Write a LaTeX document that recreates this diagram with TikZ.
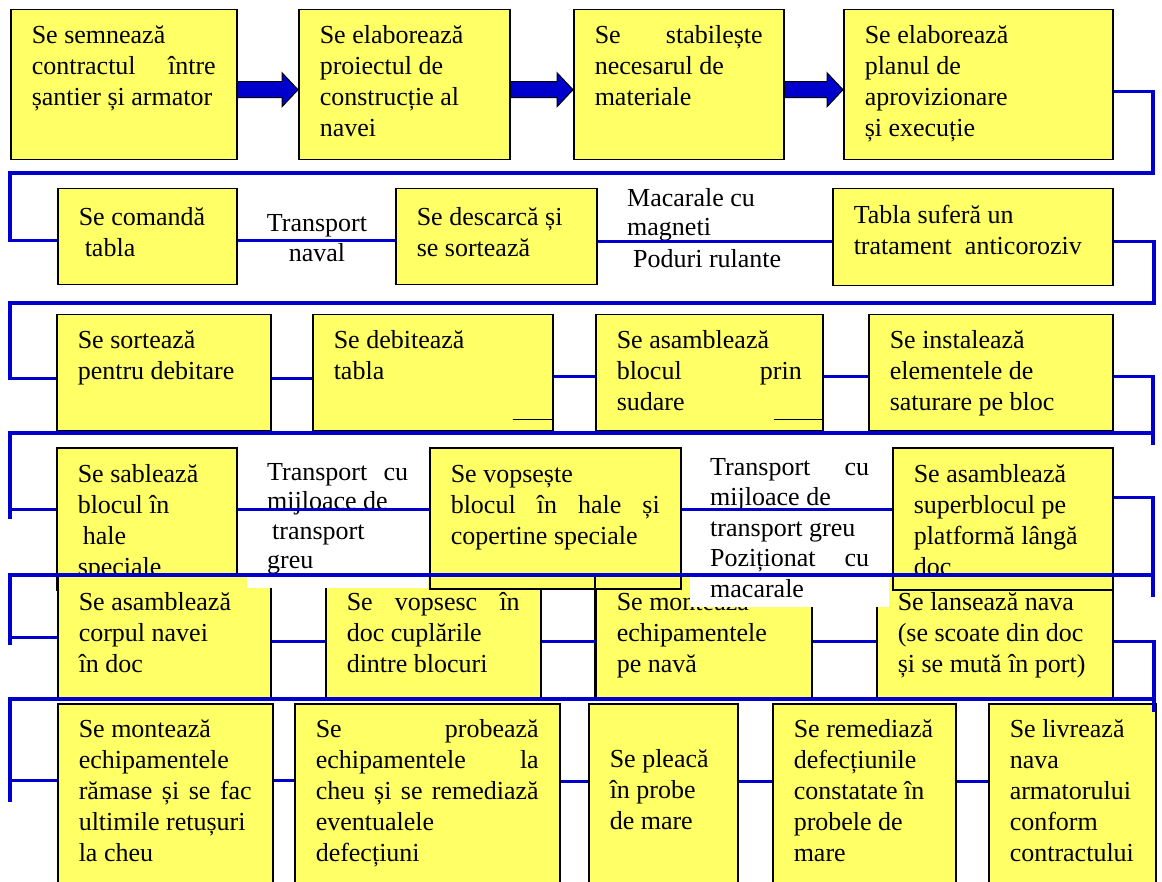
\documentclass[tikz,border=0pt]{standalone}
\usepackage{fontspec}
\setmainfont{Liberation Serif}
\usetikzlibrary{calc}
\definecolor{boxyellow}{RGB}{255,255,102}
\definecolor{flowblue}{RGB}{0,0,204}
% a line stretched to the full text width
\newcommand\jl[1]{\makebox[\linewidth][s]{#1}}
% thick block arrow from the east side of #1 to the west side of #2
\newcommand\flowarrow[2]{%
  \draw[blockarrow] ($(#1.east)+(0,-3)$) -- ($(#2.west)+(-16,-3)$) -- ($(#2.west)+(-16,-12)$)
    -- ($(#2.west)+(0,5)$) -- ($(#2.west)+(-16,22)$) -- ($(#2.west)+(-16,13)$)
    -- ($(#1.east)+(0,13)$) -- cycle;}
\begin{document}
\begin{tikzpicture}[x=1pt,y=-1pt,
  every node/.style={font=\fontsize{26}{31}\selectfont,
    execute at begin node={\hyphenpenalty=10000\exhyphenpenalty=10000}},
  stepbox/.style={draw=black, line width=1.5pt, fill=boxyellow, anchor=north west,
    inner xsep=21pt, inner ysep=0pt, align=flush left},
  bx/.style n args={3}{text width=#1pt, text height=#2pt, text depth=#3pt},
  flow/.style={draw=flowblue, line width=3.2pt, line join=miter},
  blockarrow/.style={fill=flowblue, draw=black, line width=1pt, line join=miter},
  tag/.style={inner sep=0pt, align=flush left, anchor=base west},
  patch/.style={fill=white, inner xsep=20pt, inner ysep=0pt, anchor=north west, align=flush left}
]
\useasboundingbox (0,0) rectangle (1162,882);
\clip (0,0) rectangle (1162,882);

% ---- row 1
\node[stepbox, bx={184}{34}{116}] (b1) at (10,9) {Se semnează\\ \jl{contractul între}\\ șantier și armator};
\node[stepbox, bx={169}{34}{116}] (b2) at (298,9) {Se elaborează\\ proiectul de\\ construcție al\\ navei};
\node[stepbox, bx={168}{34}{116}] (b3) at (573,9) {\jl{Se stabilește}\\ necesarul de\\ materiale};
\node[stepbox, bx={227}{34}{116}] (b4) at (843,9) {Se elaborează\\ planul de\\ aprovizionare\\ și execuție};
\flowarrow{b1}{b2}
\flowarrow{b2}{b3}
\flowarrow{b3}{b4}

% ---- row 2
\node[stepbox, bx={137}{37}{59}] (b5) at (57,188) {Se comandă\\ \hspace*{6pt}tabla};
\node[stepbox, bx={159}{37}{59}] (b6) at (395,188) {Se descarcă și\\ se sortează};
\node[stepbox, bx={238}{35}{62}] (b7) at (832,188) {Tabla suferă un\\ tratament\ \ anticoroziv};
\node[tag, text width=110pt, align=flush center, anchor=base] (lab1) at (317,232) {Transport\\[-1pt] naval};
\node[tag, text width=150pt, font=\fontsize{26}{29}\selectfont] (lab2) at (627,207) {Macarale cu\\ magneti};
\node[tag] (lab3) at (633,268) {Poduri rulante};

% ---- row 3
\node[stepbox, bx={172}{34}{82}] (b8) at (56,314) {Se sortează\\ pentru debitare};
\node[stepbox, bx={198}{34}{82}] (b9) at (312,314) {Se debitează\\ tabla};
\node[stepbox, bx={185}{34}{82}] (b10) at (595,314) {Se asamblează\\ \jl{blocul prin}\\ sudare};
\node[stepbox, bx={202}{34}{82}] (b11) at (868,314) {Se instalează\\ elementele de\\ saturare pe bloc};
\draw[line width=1.5pt] ($(b9.south east)+(-41,-12)$) -- ($(b9.south east)+(0,-12)$);
\draw[line width=1.5pt] ($(b10.south east)+(-50,-12)$) -- ($(b10.south east)+(0,-12)$);

% ---- rows 4 and 5 (overlapping)
\node[stepbox, bx={138}{35}{107}] (b12) at (56,447) {Se sablează\\ blocul în\\ \hspace*{5pt}hale\\ speciale};
\node[stepbox, bx={171}{35}{87}] (b15) at (57,575) {Se asamblează\\ corpul navei\\ în doc};
\node[stepbox, bx={173}{35}{87}] (b16) at (325,575) {\jl{Se vopsesc în}\\ doc cuplările\\ dintre blocuri};
\node[stepbox, bx={194}{35}{87}] (b18) at (876,575) {Se lansează nava\\ (se scoate din doc\\ și se mută în port)};
\node[stepbox, bx={174}{35}{87}] (b17) at (595,575) {Se montează\\ echipamentele\\ pe navă};
\node[stepbox, bx={209}{35}{106}] (b13) at (429,447) {Se vopsește\\ \jl{blocul în hale și}\\ copertine speciale};
\node[stepbox, bx={178}{35}{107}] (b14) at (892,447) {Se asamblează\\ superblocul pe\\ platformă lângă\\ doc};
\draw[line width=1.5pt] (b17.north west) rectangle (b17.south east);
\node[patch, text width=141pt, text height=25pt, text depth=108pt, font=\fontsize{26}{29.5}\selectfont]
  (lab4) at (247,455) {\jl{Transport cu}\\ mijloace de\\ \hspace*{5pt}transport\\ greu};
\node[patch, text width=159pt, text height=20pt, text depth=132pt, font=\fontsize{26}{30.5}\selectfont]
  (lab5) at (690,455) {\jl{Transport cu}\\ mijloace de\\ transport greu\\ \jl{Poziționat cu}\\ macarale};

% ---- row 6
\node[stepbox, bx={173}{34}{166}] (b19) at (57,703) {Se montează\\ echipamentele\\ \jl{rămase și se fac}\\ ultimile retușuri\\ la cheu};
\node[stepbox, bx={223}{34}{166}] (b20) at (294,703) {\jl{Se probează}\\ \jl{echipamentele la}\\ \jl{cheu și se remediază}\\ eventualele\\ defecțiuni};
\node[stepbox, bx={107}{64}{136}] (b21) at (588,703) {Se pleacă\\ în probe\\ de mare};
\node[stepbox, bx={141}{34}{166}] (b22) at (772,703) {Se remediază\\ defecțiunile\\ constatate în\\ probele de\\ mare};
\node[stepbox, bx={125}{34}{166}] (b23) at (988,703) {Se livrează\\ nava\\ armatorului\\ conform\\ contractului};

% ---- connectors
\coordinate (r1) at (1153,173); \coordinate (l1) at (10,173);
\draw[flow] ($(b4.east)+(0,7)$) -| (r1) -- (l1) |- ($(b5.west)+(0,4)$);
\draw[flow] ($(b5.east)+(0,4)$) coordinate (t) -- (t -| b6.west);
\draw[flow] ($(b6.east)+(0,5)$) coordinate (t) -- (t -| b7.west);

\coordinate (r2) at (1154,303); \coordinate (l2) at (10,303);
\draw[flow] ($(b7.east)+(0,4)$) -| (r2) -- (l2) |- ($(b8.west)+(0,6)$);
\draw[flow] ($(b8.east)+(0,6)$) coordinate (t) -- (t -| b9.west);
\draw[flow] ($(b9.east)+(0,4)$) coordinate (t) -- (t -| b10.west);
\draw[flow] ($(b10.east)+(0,4)$) coordinate (t) -- (t -| b11.west);

\coordinate (r3) at (1153,433); \coordinate (r3e) at (1153,445);
\coordinate (l3) at (10,433); \coordinate (l3e) at (10,519);
\coordinate (b12in) at ($(b12.west)+(0,-9)$);
\draw[flow] ($(b11.east)+(0,4)$) -| (r3e);
\draw[flow] (r3) -- (l3) -- (l3e);
\draw[flow] (l3 |- b12in) -- (b12in);
\draw[flow] ($(b12.east)+(0,-9)$) coordinate (t) -- (t -| b13.west);
\draw[flow] ($(b13.east)+(0,-8.5)$) coordinate (t) -- (t -| b14.west);

\coordinate (r4) at (1153,575); \coordinate (r4e) at (1153,597);
\coordinate (l4) at (10,575); \coordinate (l4e) at (10,645);
\coordinate (b15in) at ($(b15.west)+(0,1)$);
\draw[flow] ($(b14.east)+(0,-21)$) -| (r4e);
\draw[flow] (r4) -- (l4) -- (l4e);
\draw[flow] (l4 |- b15in) -- (b15in);
\draw[flow] ($(b15.east)+(0,5)$) coordinate (t) -- (t -| b16.west);
\draw[flow] ($(b16.east)+(0,5)$) coordinate (t) -- (t -| b17.west);
\draw[flow] ($(b17.east)+(0,5)$) coordinate (t) -- (t -| b18.west);

\coordinate (r5) at (1154,699); \coordinate (r5e) at (1154,712);
\coordinate (l5) at (10,699); \coordinate (l5e) at (10,802);
\coordinate (b19in) at ($(b19.west)+(0,-23)$);
\draw[flow] ($(b18.east)+(0,5)$) -| (r5e);
\draw[flow] (r5) -- (l5) -- (l5e);
\draw[flow] (l5 |- b19in) -- (b19in);
\draw[flow] ($(b19.east)+(0,-23)$) coordinate (t) -- (t -| b20.west);
\draw[flow] ($(b20.east)+(0,-22)$) coordinate (t) -- (t -| b21.west);
\draw[flow] ($(b21.east)+(0,-22)$) coordinate (t) -- (t -| b22.west);
\draw[flow] ($(b22.east)+(0,-22)$) coordinate (t) -- (t -| b23.west);
\end{tikzpicture}
\end{document}
